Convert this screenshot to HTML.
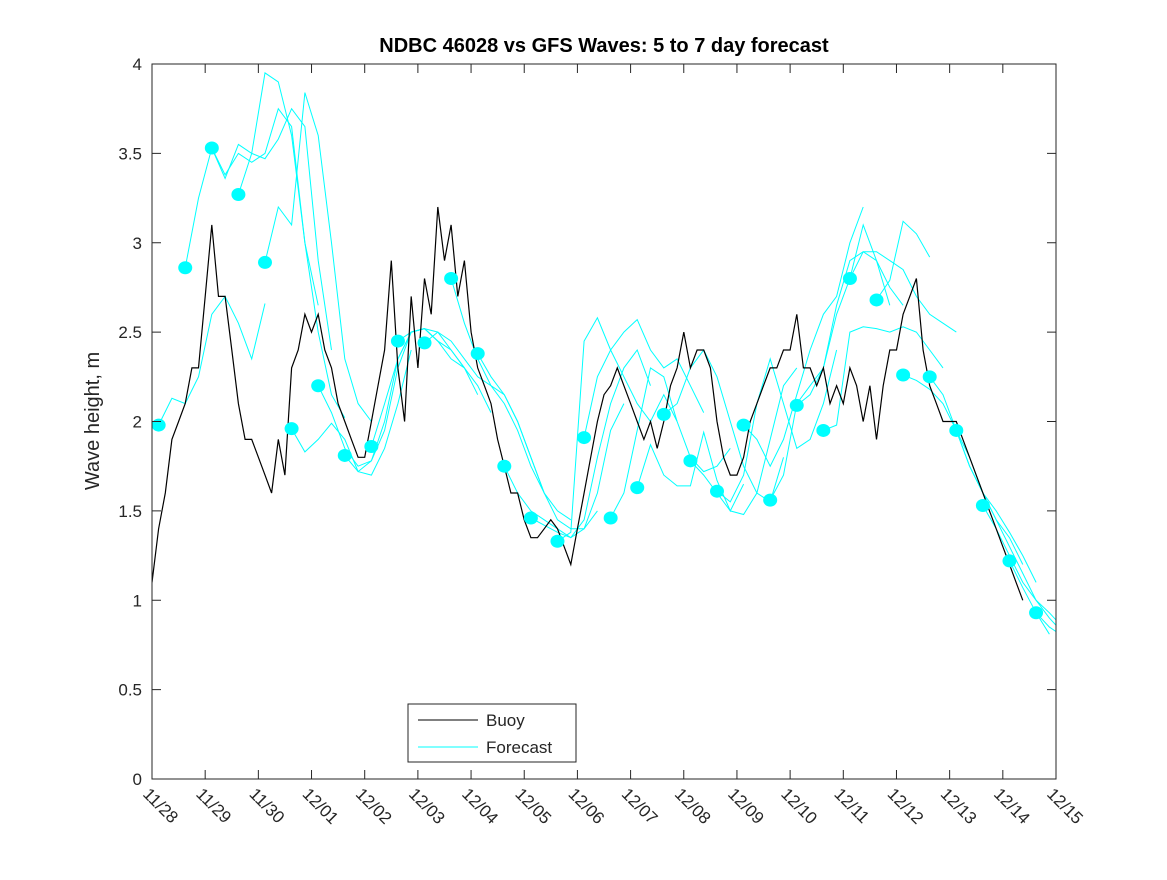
<!DOCTYPE html>
<html><head><meta charset="utf-8"><style>
body{margin:0;background:#fff;}
svg text{font-family:"Liberation Sans",sans-serif;fill:#262626;}
</style></head><body>
<svg id="chart" width="1167" height="875" xmlns="http://www.w3.org/2000/svg">
<rect width="1167" height="875" fill="#fff"/>
<text x="604" y="52" text-anchor="middle" font-size="20" font-weight="bold" style="fill:#000">NDBC 46028 vs GFS Waves: 5 to 7 day forecast</text>
<text transform="translate(99,421) rotate(-90)" text-anchor="middle" font-size="20">Wave height, m</text>
<defs><clipPath id="clip"><rect x="152" y="64" width="904" height="715"/></clipPath></defs>
<g id="forecasts" clip-path="url(#clip)"></g>
<g id="buoy" clip-path="url(#clip)"></g>
<g id="dots" clip-path="url(#clip)"></g>
<g id="axes"></g>
<g>
<rect x="408" y="704" width="168" height="58" fill="#fff" stroke="#262626" stroke-width="1"/>
<line x1="418" y1="720" x2="478" y2="720" stroke="#000" stroke-width="1"/>
<text x="486" y="726" font-size="17">Buoy</text>
<line x1="418" y1="747" x2="478" y2="747" stroke="#00ffff" stroke-width="1"/>
<text x="486" y="753" font-size="17">Forecast</text>
</g>
</svg>
<script>
const xTickLabels=["11/28","11/29","11/30","12/01","12/02","12/03","12/04","12/05","12/06","12/07","12/08","12/09","12/10","12/11","12/12","12/13","12/14","12/15"];
const yTicks=[0,0.5,1,1.5,2,2.5,3,3.5,4];
const yTickLabels=["0","0.5","1","1.5","2","2.5","3","3.5","4"];
const buoyStep=0.125;
const buoyValues=[1.1,1.4,1.6,1.9,2.0,2.1,2.3,2.3,
2.7,3.1,2.7,2.7,2.4,2.1,1.9,1.9,
1.8,1.7,1.6,1.9,1.7,2.3,2.4,2.6,
2.5,2.6,2.4,2.3,2.1,2.0,1.9,1.8,
1.8,2.0,2.2,2.4,2.9,2.3,2.0,2.7,
2.3,2.8,2.6,3.2,2.9,3.1,2.7,2.9,
2.5,2.3,2.2,2.1,1.9,1.75,1.6,1.6,
1.45,1.35,1.35,1.4,1.45,1.4,1.3,1.2,
1.4,1.6,1.8,2.0,2.15,2.2,2.3,2.2,
2.1,2.0,1.9,2.0,1.85,2.0,2.2,2.3,
2.5,2.3,2.4,2.4,2.3,2.0,1.8,1.7,
1.7,1.8,2.0,2.1,2.2,2.3,2.3,2.4,
2.4,2.6,2.3,2.3,2.2,2.3,2.1,2.2,
2.1,2.3,2.2,2.0,2.2,1.9,2.2,2.4,
2.4,2.6,2.7,2.8,2.4,2.2,2.1,2.0,
2.0,2.0,1.9,1.8,1.7,1.6,1.5,1.4,
1.3,1.2,1.1,1.0];
const forecastStarts=[0.125,0.625,1.125,1.625,2.125,2.625,3.125,3.625,4.125,4.625,5.125,5.625,6.125,6.625,7.125,7.625,8.125,8.625,9.125,9.625,10.125,10.625,11.125,11.625,12.125,12.625,13.125,13.625,14.125,14.625,15.125,15.625,16.125,16.625];
const forecastStep=0.25;
const forecastValues=[
[1.98,2.13,2.1,2.25,2.6,2.7,2.55,2.35,2.66],
[2.86,3.25,3.53,3.38,3.5,3.45,3.5,3.75,3.65,3.0,2.65],
[3.53,3.36,3.55,3.5,3.47,3.58,3.75,3.65,2.9,2.4],
[3.27,3.5,3.95,3.9,3.6,3.0,2.5,2.15,2.02],
[2.89,3.2,3.1,3.84,3.6,3.0,2.35,2.1,2.0],
[1.96,1.83,1.9,1.99,1.9,1.72,1.7,1.85,2.1,2.4],
[2.2,2.05,1.85,1.75,1.78,1.95,2.3,2.5,2.52,2.45],
[1.81,1.72,1.78,2.0,2.35,2.5,2.52,2.5,2.4,2.3],
[1.86,2.1,2.35,2.5,2.52,2.45,2.35,2.3,2.15],
[2.45,2.5,2.52,2.45,2.4,2.3,2.2,2.05],
[2.44,2.5,2.45,2.35,2.25,2.2,2.1,1.95,1.75,1.6],
[2.8,2.55,2.35,2.2,2.15,2.0,1.8,1.6,1.5,1.45],
[2.38,2.25,2.15,2.0,1.8,1.6,1.45,1.4,1.4,1.5],
[1.75,1.6,1.5,1.45,1.4,1.35,1.4,1.6,1.95,2.1],
[1.46,1.42,1.38,1.35,1.45,1.8,2.1,2.3,2.4,2.2],
[1.33,1.38,2.45,2.58,2.4,2.25,2.1,2.0,2.15,2.0],
[1.91,2.25,2.4,2.5,2.57,2.4,2.3,2.35,2.2,2.05],
[1.46,1.6,1.95,2.3,2.25,2.0,1.8,1.72,1.75,1.85],
[1.63,1.87,1.7,1.64,1.64,1.94,1.67,1.5,1.65],
[2.04,2.1,2.3,2.4,2.25,2.0,1.75,1.6,1.55,1.8],
[1.78,1.7,1.6,1.5,1.48,1.6,1.9,2.2,2.3],
[1.61,1.55,1.7,2.1,2.35,2.1,1.85,1.9,2.1,2.4],
[1.98,1.9,1.75,1.9,2.15,2.4,2.6,2.7,3.0,3.2],
[1.56,1.7,2.1,2.2,2.3,2.6,2.8,3.1,2.9,2.65],
[2.09,2.15,2.3,2.65,2.9,2.95,2.9,2.75,2.65],
[1.95,1.98,2.5,2.53,2.52,2.5,2.53,2.5,2.4,2.3],
[2.8,2.95,2.95,2.9,2.85,2.7,2.6,2.55,2.5],
[2.68,2.79,3.12,3.05,2.92],
[2.26,2.23,2.18,2.1,1.95,1.75,1.6,1.45,1.35,1.2],
[2.25,2.15,1.95,1.8,1.6,1.5,1.38,1.25,1.1],
[1.95,1.75,1.6,1.45,1.3,1.15,1.0,0.93,0.85,0.8],
[1.53,1.4,1.25,1.1,1.0,0.9,0.82],
[1.22,1.07,0.93,0.81],
[0.93,0.85,0.8]];
const NS="http://www.w3.org/2000/svg";
const X0=152,X1=1056,Y0=779,Y1=64,DAYS=17,YMAX=4;
function xs(d){return X0+(X1-X0)*d/DAYS;}
function ys(v){return Y0-(Y0-Y1)*v/YMAX;}
function mk(tag,attrs,parent){const e=document.createElementNS(NS,tag);for(const k in attrs)e.setAttribute(k,attrs[k]);parent.appendChild(e);return e;}
const fg=document.getElementById('forecasts');
forecastValues.forEach((arr,i)=>{
  const pts=arr.map((v,j)=>xs(forecastStarts[i]+j*forecastStep).toFixed(1)+','+ys(v).toFixed(1)).join(' ');
  const p=mk('polyline',{points:pts,fill:'none',stroke:'#00ffff','stroke-width':1},fg);
  
  
});
const bg=document.getElementById('buoy');
const bp=mk('polyline',{points:buoyValues.map((v,j)=>xs(j*buoyStep).toFixed(1)+','+ys(v).toFixed(1)).join(' '),fill:'none',stroke:'#000','stroke-width':1.2},bg);


const dg=document.getElementById('dots');
forecastValues.forEach((arr,i)=>{
  const c=mk('ellipse',{cx:xs(forecastStarts[i]),cy:ys(arr[0]),rx:7,ry:6.5,fill:'#00ffff'},dg);
  
  
});
const ag=document.getElementById('axes');
const box=mk('rect',{x:X0,y:Y1,width:X1-X0,height:Y0-Y1,fill:'none',stroke:'#262626','stroke-width':1},ag);


xTickLabels.forEach((lab,i)=>{
  const x=xs(i);
  mk('line',{x1:x,y1:Y0,x2:x,y2:Y0-9,stroke:'#262626'},ag);
  mk('line',{x1:x,y1:Y1,x2:x,y2:Y1+9,stroke:'#262626'},ag);
  const t=mk('text',{transform:`translate(${x-10},${Y0+16}) rotate(45)`,'font-size':17},ag);
  t.textContent=lab;
  
  
});
yTicks.forEach((v,i)=>{
  const y=ys(v);
  mk('line',{x1:X0,y1:y,x2:X0+9,y2:y,stroke:'#262626'},ag);
  mk('line',{x1:X1,y1:y,x2:X1-9,y2:y,stroke:'#262626'},ag);
  const t=mk('text',{x:X0-10,y:y+6,'text-anchor':'end','font-size':17},ag);
  t.textContent=yTickLabels[i];
  
  
});
</script>
</body></html>
